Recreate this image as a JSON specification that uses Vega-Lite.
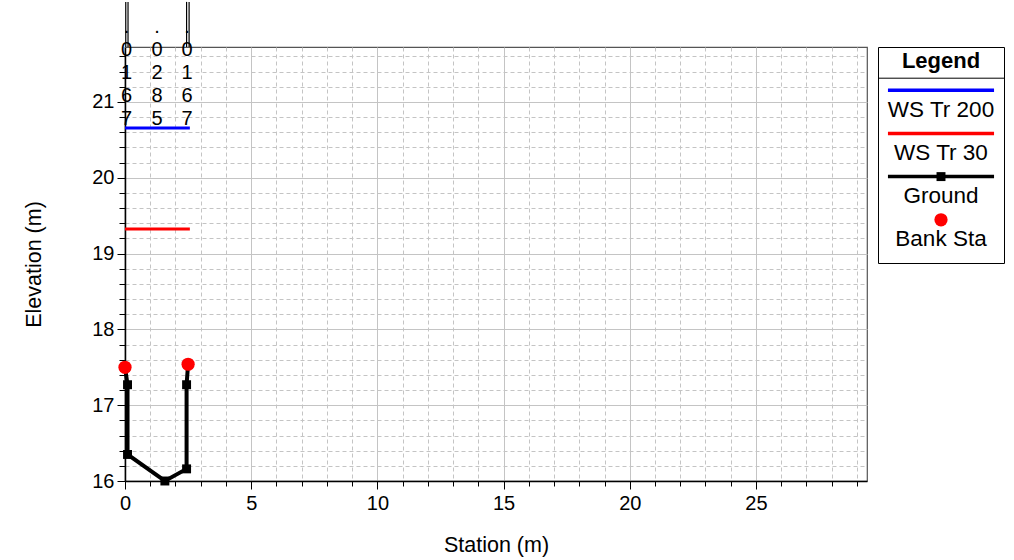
{
  "$schema": "https://vega.github.io/schema/vega-lite/v6.json",
  "background": "white",
  "padding": {"left": 23, "top": 0, "right": 5, "bottom": 5},
  "spacing": 9,
  "config": {
    "font": "Liberation Sans",
    "axis": {"labelFont": "Liberation Sans", "titleFont": "Liberation Sans", "titleFontWeight": "normal", "labelColor": "black", "titleColor": "black"}
  },
  "datasets": {
    "xs": [
      {"series": "WS Tr 200", "station": 0, "elev": 20.655},
      {"series": "WS Tr 200", "station": 2.57, "elev": 20.655},
      {"series": "WS Tr 30", "station": 0, "elev": 19.325},
      {"series": "WS Tr 30", "station": 2.57, "elev": 19.325},
      {"series": "Ground", "station": 0, "elev": 17.5},
      {"series": "Ground", "station": 0.1, "elev": 17.27},
      {"series": "Ground", "station": 0.1, "elev": 16.35},
      {"series": "Ground", "station": 1.58, "elev": 16.0},
      {"series": "Ground", "station": 2.44, "elev": 16.16},
      {"series": "Ground", "station": 2.44, "elev": 17.27},
      {"series": "Ground", "station": 2.5, "elev": 17.54},
      {"series": "Bank Sta", "station": 0, "elev": 17.5},
      {"series": "Bank Sta", "station": 2.5, "elev": 17.54}
    ],
    "nvals": [
      {"station": 0.06, "label": ".\n0\n1\n6\n7"},
      {"station": 1.27, "label": ".\n0\n2\n8\n5"},
      {"station": 2.46, "label": ".\n0\n1\n6\n7"}
    ],
    "nlines": [
      {"station": 0.03},
      {"station": 0.12},
      {"station": 2.44},
      {"station": 2.54}
    ],
    "legend": [
      {"name": "WS Tr 200", "kind": "line"},
      {"name": "WS Tr 30", "kind": "line"},
      {"name": "Ground", "kind": "ground"},
      {"name": "Bank Sta", "kind": "point"}
    ]
  },
  "hconcat": [
    {
      "width": 742,
      "height": 434,
      "view": {"stroke": "#555555", "strokeWidth": 1.2},
      "layer": [
        {
          "data": {"name": "xs"},
          "transform": [{"filter": "datum.series === 'WS Tr 200' || datum.series === 'WS Tr 30'"}],
          "mark": {"type": "line", "strokeWidth": 3, "clip": false},
          "encoding": {
            "x": {
              "field": "station", "type": "quantitative",
              "scale": {"domain": [0, 29.4], "nice": false, "zero": false},
              "axis": {"title": "Station (m)", "values": [0,1,2,3,4,5,6,7,8,9,10,11,12,13,14,15,16,17,18,19,20,21,22,23,24,25,26,27,28,29], "format": "d", "labelExpr": "datum.value % 5 === 0 ? datum.label : ''", "labelOverlap": false, "labelFlush": false, "labelFontSize": 20, "titleFontSize": 21.5, "labelPadding": 4, "titlePadding": 21, "domainColor": "black", "domainWidth": 1.5, "tickColor": "black", "tickSize": {"condition": {"test": "datum.value % 5 === 0", "value": 8}, "value": 5}, "grid": true, "gridColor": "#c4c4c4", "gridWidth": 1, "gridDash": {"condition": {"test": "datum.value % 5 === 0", "value": []}, "value": [4, 3]}}
            },
            "y": {
              "field": "elev", "type": "quantitative",
              "scale": {"domain": [16, 21.725], "nice": false, "zero": false},
              "axis": {"title": "Elevation (m)", "values": [16,16.2,16.4,16.6,16.8,17,17.2,17.4,17.6,17.8,18,18.2,18.4,18.6,18.8,19,19.2,19.4,19.6,19.8,20,20.2,20.4,20.6,20.8,21,21.2,21.4,21.6], "labelExpr": "abs(datum.value - round(datum.value)) < 0.01 ? format(datum.value, 'd') : ''", "labelOverlap": false, "labelFlush": false, "labelFontSize": 20, "titleFontSize": 21.5, "labelPadding": 3, "titlePadding": 46, "domainColor": "black", "domainWidth": 1.5, "tickColor": "black", "tickSize": {"condition": {"test": "abs(datum.value - round(datum.value)) < 0.01", "value": 8}, "value": 6}, "grid": true, "gridColor": "#c4c4c4", "gridWidth": 1, "gridDash": {"condition": {"test": "abs(datum.value - round(datum.value)) < 0.01", "value": []}, "value": [4, 3]}}
            },
            "detail": {"field": "series"},
            "color": {"field": "series", "type": "nominal", "legend": null,
              "scale": {"domain": ["WS Tr 200", "WS Tr 30", "Ground", "Bank Sta"], "range": ["#0000ff", "#ff0000", "#000000", "#ff0000"]}}
          }
        },
        {
          "data": {"name": "xs"},
          "transform": [{"filter": "datum.series === 'Ground'"}],
          "mark": {"type": "line", "strokeWidth": 4, "color": "black", "clip": false,
            "point": {"shape": "square", "size": 80, "filled": true, "color": "black", "opacity": 1}},
          "encoding": {
            "x": {"field": "station", "type": "quantitative",
              "axis": {"title": "Station (m)", "values": [0,1,2,3,4,5,6,7,8,9,10,11,12,13,14,15,16,17,18,19,20,21,22,23,24,25,26,27,28,29], "format": "d", "labelExpr": "datum.value % 5 === 0 ? datum.label : ''", "labelOverlap": false, "labelFlush": false, "labelFontSize": 20, "titleFontSize": 21.5, "labelPadding": 4, "titlePadding": 21, "domainColor": "black", "domainWidth": 1.5, "tickColor": "black", "tickSize": {"condition": {"test": "datum.value % 5 === 0", "value": 8}, "value": 5}, "grid": true, "gridColor": "#c4c4c4", "gridWidth": 1, "gridDash": {"condition": {"test": "datum.value % 5 === 0", "value": []}, "value": [4, 3]}}},
            "y": {"field": "elev", "type": "quantitative",
              "axis": {"title": "Elevation (m)", "values": [16,16.2,16.4,16.6,16.8,17,17.2,17.4,17.6,17.8,18,18.2,18.4,18.6,18.8,19,19.2,19.4,19.6,19.8,20,20.2,20.4,20.6,20.8,21,21.2,21.4,21.6], "labelExpr": "abs(datum.value - round(datum.value)) < 0.01 ? format(datum.value, 'd') : ''", "labelOverlap": false, "labelFlush": false, "labelFontSize": 20, "titleFontSize": 21.5, "labelPadding": 3, "titlePadding": 46, "domainColor": "black", "domainWidth": 1.5, "tickColor": "black", "tickSize": {"condition": {"test": "abs(datum.value - round(datum.value)) < 0.01", "value": 8}, "value": 6}, "grid": true, "gridColor": "#c4c4c4", "gridWidth": 1, "gridDash": {"condition": {"test": "abs(datum.value - round(datum.value)) < 0.01", "value": []}, "value": [4, 3]}}},
            "order": {"field": "station", "type": "quantitative", "sort": null}
          }
        },
        {
          "data": {"name": "xs"},
          "transform": [{"filter": "datum.series === 'Bank Sta'"}],
          "mark": {"type": "circle", "size": 175, "color": "#ff0000", "opacity": 1, "clip": false},
          "encoding": {
            "x": {"field": "station", "type": "quantitative",
              "axis": {"title": "Station (m)", "values": [0,1,2,3,4,5,6,7,8,9,10,11,12,13,14,15,16,17,18,19,20,21,22,23,24,25,26,27,28,29], "format": "d", "labelExpr": "datum.value % 5 === 0 ? datum.label : ''", "labelOverlap": false, "labelFlush": false, "labelFontSize": 20, "titleFontSize": 21.5, "labelPadding": 4, "titlePadding": 21, "domainColor": "black", "domainWidth": 1.5, "tickColor": "black", "tickSize": {"condition": {"test": "datum.value % 5 === 0", "value": 8}, "value": 5}, "grid": true, "gridColor": "#c4c4c4", "gridWidth": 1, "gridDash": {"condition": {"test": "datum.value % 5 === 0", "value": []}, "value": [4, 3]}}},
            "y": {"field": "elev", "type": "quantitative",
              "axis": {"title": "Elevation (m)", "values": [16,16.2,16.4,16.6,16.8,17,17.2,17.4,17.6,17.8,18,18.2,18.4,18.6,18.8,19,19.2,19.4,19.6,19.8,20,20.2,20.4,20.6,20.8,21,21.2,21.4,21.6], "labelExpr": "abs(datum.value - round(datum.value)) < 0.01 ? format(datum.value, 'd') : ''", "labelOverlap": false, "labelFlush": false, "labelFontSize": 20, "titleFontSize": 21.5, "labelPadding": 3, "titlePadding": 46, "domainColor": "black", "domainWidth": 1.5, "tickColor": "black", "tickSize": {"condition": {"test": "abs(datum.value - round(datum.value)) < 0.01", "value": 8}, "value": 6}, "grid": true, "gridColor": "#c4c4c4", "gridWidth": 1, "gridDash": {"condition": {"test": "abs(datum.value - round(datum.value)) < 0.01", "value": []}, "value": [4, 3]}}}
          }
        },
        {
          "data": {"name": "nlines"},
          "mark": {"type": "rule", "color": "black", "strokeWidth": 1.2, "clip": false},
          "encoding": {
            "x": {"field": "station", "type": "quantitative",
              "axis": {"title": "Station (m)", "values": [0,1,2,3,4,5,6,7,8,9,10,11,12,13,14,15,16,17,18,19,20,21,22,23,24,25,26,27,28,29], "format": "d", "labelExpr": "datum.value % 5 === 0 ? datum.label : ''", "labelOverlap": false, "labelFlush": false, "labelFontSize": 20, "titleFontSize": 21.5, "labelPadding": 4, "titlePadding": 21, "domainColor": "black", "domainWidth": 1.5, "tickColor": "black", "tickSize": {"condition": {"test": "datum.value % 5 === 0", "value": 8}, "value": 5}, "grid": true, "gridColor": "#c4c4c4", "gridWidth": 1, "gridDash": {"condition": {"test": "datum.value % 5 === 0", "value": []}, "value": [4, 3]}}},
            "y": {"datum": 21.725, "type": "quantitative",
              "axis": {"title": "Elevation (m)", "values": [16,16.2,16.4,16.6,16.8,17,17.2,17.4,17.6,17.8,18,18.2,18.4,18.6,18.8,19,19.2,19.4,19.6,19.8,20,20.2,20.4,20.6,20.8,21,21.2,21.4,21.6], "labelExpr": "abs(datum.value - round(datum.value)) < 0.01 ? format(datum.value, 'd') : ''", "labelOverlap": false, "labelFlush": false, "labelFontSize": 20, "titleFontSize": 21.5, "labelPadding": 3, "titlePadding": 46, "domainColor": "black", "domainWidth": 1.5, "tickColor": "black", "tickSize": {"condition": {"test": "abs(datum.value - round(datum.value)) < 0.01", "value": 8}, "value": 6}, "grid": true, "gridColor": "#c4c4c4", "gridWidth": 1, "gridDash": {"condition": {"test": "abs(datum.value - round(datum.value)) < 0.01", "value": []}, "value": [4, 3]}}},
            "y2": {"datum": 22.32}
          }
        },
        {
          "data": {"name": "nvals"},
          "mark": {"type": "text", "lineBreak": "\n", "lineHeight": 23, "fontSize": 20, "baseline": "top", "align": "center", "color": "black", "clip": false},
          "encoding": {
            "x": {"field": "station", "type": "quantitative",
              "axis": {"title": "Station (m)", "values": [0,1,2,3,4,5,6,7,8,9,10,11,12,13,14,15,16,17,18,19,20,21,22,23,24,25,26,27,28,29], "format": "d", "labelExpr": "datum.value % 5 === 0 ? datum.label : ''", "labelOverlap": false, "labelFlush": false, "labelFontSize": 20, "titleFontSize": 21.5, "labelPadding": 4, "titlePadding": 21, "domainColor": "black", "domainWidth": 1.5, "tickColor": "black", "tickSize": {"condition": {"test": "datum.value % 5 === 0", "value": 8}, "value": 5}, "grid": true, "gridColor": "#c4c4c4", "gridWidth": 1, "gridDash": {"condition": {"test": "datum.value % 5 === 0", "value": []}, "value": [4, 3]}}},
            "y": {"datum": 22.117, "type": "quantitative",
              "axis": {"title": "Elevation (m)", "values": [16,16.2,16.4,16.6,16.8,17,17.2,17.4,17.6,17.8,18,18.2,18.4,18.6,18.8,19,19.2,19.4,19.6,19.8,20,20.2,20.4,20.6,20.8,21,21.2,21.4,21.6], "labelExpr": "abs(datum.value - round(datum.value)) < 0.01 ? format(datum.value, 'd') : ''", "labelOverlap": false, "labelFlush": false, "labelFontSize": 20, "titleFontSize": 21.5, "labelPadding": 3, "titlePadding": 46, "domainColor": "black", "domainWidth": 1.5, "tickColor": "black", "tickSize": {"condition": {"test": "abs(datum.value - round(datum.value)) < 0.01", "value": 8}, "value": 6}, "grid": true, "gridColor": "#c4c4c4", "gridWidth": 1, "gridDash": {"condition": {"test": "abs(datum.value - round(datum.value)) < 0.01", "value": []}, "value": [4, 3]}}},
            "text": {"field": "label"}
          }
        }
      ]
    },
    {
      "width": 126,
      "height": 216,
      "view": {"stroke": "black", "strokeWidth": 1},
      "data": {"name": "legend"},
      "encoding": {
        "y": {"field": "name", "type": "nominal", "axis": null,
          "scale": {"type": "point", "domain": ["WS Tr 200", "WS Tr 30", "Ground", "Bank Sta"], "padding": 1.04}}
      },
      "layer": [
        {
          "transform": [{"filter": "datum.kind !== 'point'"}],
          "mark": {"type": "rule", "strokeWidth": 3.5},
          "encoding": {
            "x": {"datum": 0.079, "type": "quantitative", "scale": {"domain": [0, 1], "nice": false, "zero": false}, "axis": null},
            "x2": {"datum": 0.921},
            "color": {"field": "name", "type": "nominal", "legend": null,
              "scale": {"domain": ["WS Tr 200", "WS Tr 30", "Ground", "Bank Sta"], "range": ["#0000ff", "#ff0000", "#000000", "#ff0000"]}}
          }
        },
        {
          "transform": [{"filter": "datum.kind === 'ground'"}],
          "mark": {"type": "point", "shape": "square", "size": 80, "filled": true, "color": "black", "opacity": 1},
          "encoding": {"x": {"datum": 0.5, "type": "quantitative"}}
        },
        {
          "transform": [{"filter": "datum.kind === 'point'"}],
          "mark": {"type": "circle", "size": 175, "color": "#ff0000", "opacity": 1},
          "encoding": {"x": {"datum": 0.5, "type": "quantitative"}}
        },
        {
          "mark": {"type": "text", "fontSize": 22.5, "dy": 19.5, "baseline": "middle", "align": "center", "color": "black"},
          "encoding": {"x": {"datum": 0.5, "type": "quantitative"}, "text": {"field": "name"}}
        },
        {
          "data": {"values": [{"h": "Legend"}]},
          "mark": {"type": "text", "fontSize": 22, "fontWeight": "bold", "dy": -29, "baseline": "middle", "align": "center", "color": "black"},
          "encoding": {"x": {"datum": 0.5, "type": "quantitative"}, "y": {"datum": "WS Tr 200"}, "text": {"field": "h"}}
        },
        {
          "data": {"values": [{"h": "Legend"}]},
          "mark": {"type": "rule", "strokeWidth": 1, "color": "black", "yOffset": -12},
          "encoding": {"x": {"datum": 0, "type": "quantitative"}, "x2": {"datum": 1}, "y": {"datum": "WS Tr 200"}}
        }
      ]
    }
  ]
}
